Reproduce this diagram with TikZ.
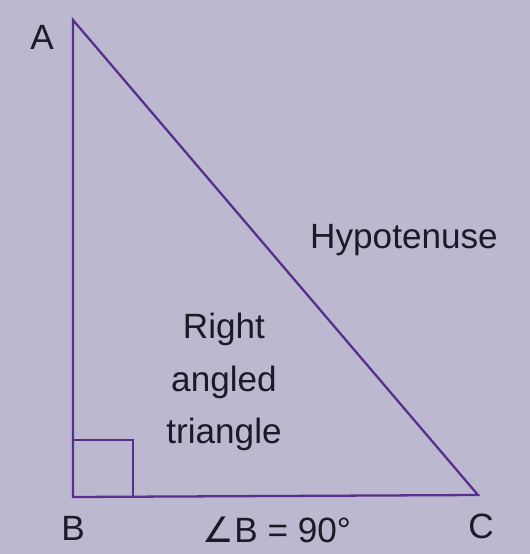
\documentclass[tikz,border=0pt]{standalone}
\usepackage{fontspec}
\setmainfont{Liberation Sans}
\newfontfamily\symfont{DejaVu Sans}
\usepackage{xcolor}
\usepackage{tikz}

\definecolor{pagebg}{RGB}{188,184,208}
\definecolor{edgepurple}{RGB}{88,48,140}
\definecolor{inkdark}{RGB}{28,26,38}

\begin{document}
\begin{tikzpicture}[x=0.02cm,y=-0.02cm,
        side/.style={draw=edgepurple, line width=1.3pt, line join=miter},
        lbl/.style={text=inkdark, font=\fontsize{20}{30}\selectfont, inner sep=0pt}
    ]
        \fill[pagebg] (0,0) rectangle (530,554);
        \useasboundingbox (0,0) rectangle (530,554);

        \coordinate (A) at (73,20);
        \coordinate (B) at (73,497);
        \coordinate (C) at (478,495);
        \coordinate (Bx) at (133,497);
        \coordinate (By) at (73,440);
        \coordinate (Bxy) at (133,440);

        \draw[side] (A) -- (B) -- (C) -- cycle;
        \draw[side, line width=1.1pt] (By) -- (Bxy) -- (Bx);

        \node[lbl] (labA) at (42,37) {A};
        \node[lbl] (labB) at (73,528) {B};
        \node[lbl] (labC) at (481,526) {C};
        \node[lbl] (angB) at (277,530) {{\symfont ∠}B = 90°};
        \node[lbl] (hyp) at (404,240) {Hypotenuse};
        \node[lbl, align=center] (tri) at (224,382) {Right\\angled\\triangle};
    \end{tikzpicture}
\end{document}
